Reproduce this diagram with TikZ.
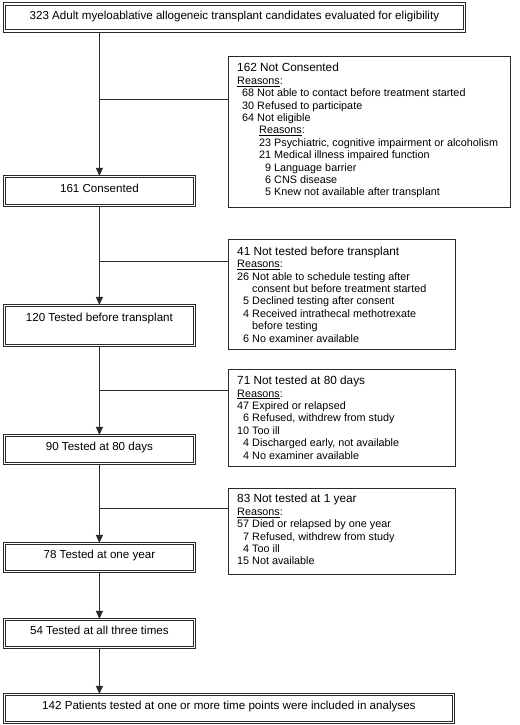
\documentclass[tikz,border=0pt]{standalone}
\usepackage{fontspec}
\setmainfont{Liberation Sans}
\usetikzlibrary{arrows.meta}
\definecolor{ln}{HTML}{2A2A2A}
\newlength{\numw}
\newcommand{\mainsz}{\fontsize{11.6bp}{13bp}\selectfont}
\newcommand{\bodysz}{\fontsize{10.8bp}{12.4bp}\selectfont\settowidth{\numw}{00}}
\newcommand{\ttlsz}{\fontsize{11.8bp}{12.4bp}\selectfont}
\newcommand{\rsn}{\underline{Reasons}:}
\newcommand{\itm}[2]{\makebox[\numw][r]{#1} #2}
\newcommand{\cnt}[1]{\hspace*{\numw} #1}
\tikzset{
  x=1bp, y=-1bp,
  mainbox/.style={draw=ln, line width=1bp, double, double distance=1.8bp, fill=white,
    anchor=north west, inner sep=0, font=\mainsz, text height=8.5bp, text depth=6.2bp},
  sidebox/.style={draw=ln, line width=0.9bp, anchor=north west, inner sep=0},
  sidetext/.style={anchor=north west, inner sep=0, align=left, font=\bodysz},
  conn/.style={draw=ln, line width=0.9bp},
  arr/.style={conn, -{Triangle[width=7bp,length=8bp]}}
}
\begin{document}
\begin{tikzpicture}
\useasboundingbox (0,0) rectangle (520,725);
\fill[white] (0,0) rectangle (520,725);

% main column
\node[mainbox, minimum width=460bp, minimum height=27bp] (top) at (3.9,3.9)
  {323 Adult myeloablative allogeneic transplant candidates evaluated for eligibility};
\node[mainbox, minimum width=190bp, minimum height=29bp] (c161) at (3.9,175.9) {161 Consented};
\node[mainbox, minimum width=190bp, minimum height=40bp, text depth=16.2bp] (t120) at (3.9,304.9) {120 Tested before transplant};
\node[mainbox, minimum width=190bp, minimum height=28bp] (t90) at (3.9,434.9) {90 Tested at 80 days};
\node[mainbox, minimum width=190bp, minimum height=28bp] (t78) at (3.9,542.9) {78 Tested at one year};
\node[mainbox, minimum width=190bp, minimum height=28bp] (t54) at (3.9,618.9) {54 Tested at all three times};
\node[mainbox, minimum width=449bp, minimum height=28bp] (all) at (3.9,693.9)
  {142 Patients tested at one or more time points were included in analyses};

% side boxes
\node[sidebox, minimum width=282bp, minimum height=151bp] (nc) at (228,56) {};
\node[sidetext] (nct) at (237,63.2) {{\ttlsz 162 Not Consented}\\
\rsn\\
\hspace*{5bp}\itm{68}{Not able to contact before treatment started}\\
\hspace*{5bp}\itm{30}{Refused to participate}\\
\hspace*{5bp}\itm{64}{Not eligible}\\
\hspace*{22bp}\rsn\\
\hspace*{22bp}\itm{23}{Psychiatric, cognitive impairment or alcoholism}\\
\hspace*{22bp}\itm{21}{Medical illness impaired function}\\
\hspace*{22bp}\itm{9}{Language barrier}\\
\hspace*{22bp}\itm{6}{CNS disease}\\
\hspace*{22bp}\itm{5}{Knew not available after transplant}};

\node[sidebox, minimum width=227bp, minimum height=110bp] (n41) at (228,239) {};
\node[sidetext] (n41t) at (237,246.5) {{\ttlsz 41 Not tested before transplant}\\
\rsn\\
\itm{26}{Not able to schedule testing after}\\
\cnt{consent but before treatment started}\\
\itm{5}{Declined testing after consent}\\
\itm{4}{Received intrathecal methotrexate}\\
\cnt{before testing}\\
\itm{6}{No examiner available}};

\node[sidebox, minimum width=227bp, minimum height=97bp] (n71) at (228,369) {};
\node[sidetext] (n71t) at (237,376) {{\ttlsz 71 Not tested at 80 days}\\
\rsn\\
\itm{47}{Expired or relapsed}\\
\itm{6}{Refused, withdrew from study}\\
\itm{10}{Too ill}\\
\itm{4}{Discharged early, not available}\\
\itm{4}{No examiner available}};

\node[sidebox, minimum width=227bp, minimum height=86bp] (n83) at (228,488) {};
\node[sidetext] (n83t) at (237,494.2) {{\ttlsz 83 Not tested at 1 year}\\
\rsn\\
\itm{57}{Died or relapsed by one year}\\
\itm{7}{Refused, withdrew from study}\\
\itm{4}{Too ill}\\
\itm{15}{Not available}};

% connectors
\draw[arr] (c161.north |- top.south) -- (c161.north);
\draw[arr] (c161.south) -- (t120.north);
\draw[arr] (t120.south) -- (t90.north);
\draw[arr] (t90.south) -- (t78.north);
\draw[arr] (t78.south) -- (t54.north);
\draw[arr] (t54.south) -- (t54.south |- all.north);

\coordinate (j1) at (99,99);
\coordinate (j2) at (99,261);
\coordinate (j3) at (99,390);
\coordinate (j4) at (99,508);
\draw[conn] (j1) -- (j1 -| nc.west);
\draw[conn] (j2) -- (j2 -| n41.west);
\draw[conn] (j3) -- (j3 -| n71.west);
\draw[conn] (j4) -- (j4 -| n83.west);
\end{tikzpicture}
\end{document}
